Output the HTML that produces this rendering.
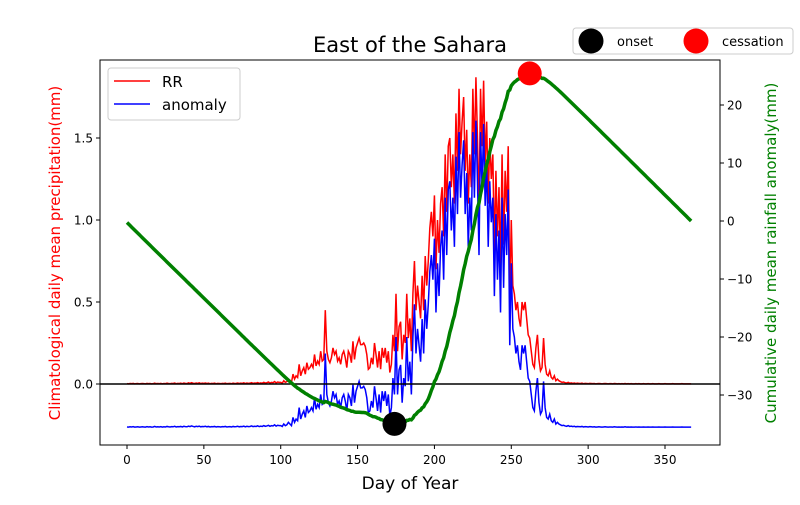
<!DOCTYPE html>
<html><head><meta charset="utf-8"><style>
body{margin:0;background:#fff;}
svg text{font-family:"DejaVu Sans","Liberation Sans",sans-serif;}
</style></head><body>
<svg id="chart" width="800" height="500" viewBox="0 0 800 500" xmlns="http://www.w3.org/2000/svg">
<rect x="0" y="0" width="800" height="500" fill="#fff"/>
<g id="plot"></g>
<rect x="100" y="60" width="620" height="385" fill="none" stroke="#000" stroke-width="1"/>
<g id="axes"></g>
<text x="410" y="52" font-size="21" text-anchor="middle">East of the Sahara</text>
<text x="410" y="489" font-size="17" text-anchor="middle">Day of Year</text>
<text transform="translate(60,253) rotate(-90)" font-size="15" fill="red" text-anchor="middle">Climatological daily mean precipitation(mm)</text>
<text transform="translate(776,253) rotate(-90)" font-size="15" fill="green" text-anchor="middle">Cumulative daily mean rainfall anomaly(mm)</text>
<g>
<rect x="108" y="68" width="132" height="52" rx="3" fill="#fff" fill-opacity="0.8" stroke="#ccc"/>
<line x1="114" y1="81" x2="150" y2="81" stroke="red" stroke-width="1.5"/>
<text x="162" y="87" font-size="15">RR</text>
<line x1="114" y1="104" x2="150" y2="104" stroke="blue" stroke-width="1.5"/>
<text x="162" y="110" font-size="15">anomaly</text>
</g>
<g>
<rect x="573" y="28" width="220" height="26" rx="3" fill="#fff" stroke="#ccc"/>
<circle cx="591" cy="41" r="12.5" fill="#000"/>
<text x="617" y="46" font-size="13">onset</text>
<circle cx="696" cy="41" r="12.5" fill="red"/>
<text x="722" y="46" font-size="13">cessation</text>
</g>
</svg>
<script>
const rrHead = [0.002,0.001,0.003,0.002,0.004,0.001,0.002,0.003,0.001,0.002,0.003,0.002,0.001,0.004,0.002,0.003,0.001,0.002,0.005,0.002,0.003,0.002,0.004,0.001,0.003,0.002,0.005,0.003,0.002,0.004,0.003,0.006,0.002,0.004,0.003,0.005,0.002,0.006,0.004,0.003,0.007,0.004,0.008,0.005,0.003,0.006,0.004,0.007,0.003,0.005,0.004,0.006,0.003,0.005,0.002,0.004,0.003,0.005,0.002,0.004,0.003,0.002,0.004,0.003,0.005,0.002,0.003,0.004,0.002,0.005,0.003,0.004,0.006,0.003,0.005,0.004,0.007,0.003,0.006,0.004,0.005,0.008,0.004,0.006,0.005,0.009,0.004,0.007,0.005,0.01,0.006,0.008,0.012,0.006,0.01,0.008,0.015,0.007,0.012,0.01];
const rrMid = [0.01,0.005,0.02,0.01,0.015,0.03,0.02,0.01,0.06,0.03,0.05,0.04,0.12,0.05,0.08,0.1,0.06,0.13,0.09,0.1,0.12,0.1,0.18,0.11,0.14,0.12,0.2,0.14,0.15,0.45,0.2,
0.15,0.13,0.16,0.22,0.18,0.2,0.14,0.16,0.12,0.18,0.2,0.16,0.1,0.2,0.18,0.13,0.26,0.15,0.22,0.25,0.28,0.24,0.24,0.25,0.23,0.18,0.09,0.1,0.16,0.12,0.25,0.18,0.1,0.2,0.09,0.22,0.16,0.22,0.13,0.2,0.07,0.12,0.3,0.2,0.55,0.2,0.35,0.38,0.15,0.3,0.25,0.55,0.28,0.4,0.2,0.55,0.75,0.45,0.6,0.5,0.4,0.66,0.45,0.78,0.6,0.75,0.95,1.05,0.9,1.15,0.7,1.0,0.8,1.1,1.2,0.9,1.4,1.05,1.45,1.5,1.2,1.4,1.1,1.65,1.3,1.8,1.4,1.6,1.75,1.3,1.55,1.1,1.4,1.2,1.8,1.4,1.87,1.5,1.05,1.8,1.45,1.85,1.35,1.6,1.1,1.5,1.25,1.4,0.8,1.3,0.9,1.2,0.7,1.4,0.85,1.3,1.05,1.45,0.5,1.0,0.6,0.55,0.45,0.5,0.4,0.35,0.5,0.45,0.5,0.4,0.3,0.28,0.2,0.12,0.1,0.22,0.3,0.15,0.08,0.1,0.28,0.12,0.06,0.05,0.08,0.04,0.03,0.05,0.02,0.03,0.02];
const rrTail = [0.015,0.01,0.012,0.008,0.006,0.01,0.005,0.007,0.004,0.006,0.003,0.005,0.004,0.003,0.005,0.002,0.004,0.003,0.002,0.004,0.003,0.002,0.003,0.001,0.002,0.003,0.002,0.001,0.002,0.003,0.002,0.001,0.002,0.002,0.001,0.003,0.002,0.001,0.002,0.001,0.002,0.001,0.003,0.001,0.002,0.001,0.002,0.001,0.001,0.002,0.001,0.002,0.001,0.001,0.002,0.001,0.001,0.002,0.001,0.001,0.002,0.001,0.001,0.001,0.002,0.001,0.001,0.001,0.002,0.001,0.001,0.001,0.001,0.002,0.001,0.001,0.001,0.001,0.001,0.002,0.001,0.001,0.001,0.001,0.001,0.001];
const leftTicks = [0.0,0.5,1.0,1.5];
const rightTicks = [-30,-20,-10,0,10,20];
const xTicks = [0,50,100,150,200,250,300,350];

const rr = rrHead.concat(rrMid, rrTail);
const X = d => 127 + d * (665 - 127) / 350;
const YL = v => 384 - v * 164;
const YR = v => 221 - v * 5.8;
const NS = 'http://www.w3.org/2000/svg';
const plot = document.getElementById('plot');
const axes = document.getElementById('axes');
function mk(tag, attrs, parent) {
  const e = document.createElementNS(NS, tag);
  for (const k in attrs) e.setAttribute(k, attrs[k]);
  parent.appendChild(e); return e;
}
const mean = rr.reduce((a, b) => a + b, 0) / rr.length;
const anom = rr.map(v => v - mean);
const cum = []; let s = 0;
anom.forEach(v => { s += v; cum.push(s); });

const rrLine = mk('polyline', {points: rr.map((v, i) => X(i) + ',' + YL(v)).join(' '), fill: 'none', stroke: 'red', 'stroke-width': 1.5}, plot);


const anLine = mk('polyline', {points: anom.map((v, i) => X(i) + ',' + YL(v)).join(' '), fill: 'none', stroke: 'blue', 'stroke-width': 1.5}, plot);


const zl = mk('line', {x1: 100, x2: 720, y1: YL(0), y2: YL(0), stroke: '#000', 'stroke-width': 1.5}, plot);


const cLine = mk('polyline', {points: cum.map((v, i) => X(i) + ',' + YR(v)).join(' '), fill: 'none', stroke: 'green', 'stroke-width': 3.5}, plot);


let iMin = 0, iMax = 0;
cum.forEach((v, i) => { if (v < cum[iMin]) iMin = i; if (v > cum[iMax]) iMax = i; });
const on = mk('circle', {cx: X(iMin), cy: YR(cum[iMin]), r: 12, fill: '#000'}, plot);


const ce = mk('circle', {cx: X(iMax), cy: YR(cum[iMax]), r: 12, fill: 'red'}, plot);



xTicks.forEach(t => {
  mk('line', {x1: X(t), x2: X(t), y1: 445, y2: 449, stroke: '#000'}, axes);
  const tx = mk('text', {x: X(t), y: 464, 'font-size': 12, 'text-anchor': 'middle'}, axes);
  tx.textContent = t;
  
  
});
leftTicks.forEach(t => {
  mk('line', {x1: 96, x2: 100, y1: YL(t), y2: YL(t), stroke: '#000'}, axes);
  const tx = mk('text', {x: 93, y: YL(t) + 4.5, 'font-size': 12, 'text-anchor': 'end'}, axes);
  tx.textContent = t.toFixed(1);
  
  
});
rightTicks.forEach(t => {
  mk('line', {x1: 720, x2: 724, y1: YR(t), y2: YR(t), stroke: '#000'}, axes);
  const tx = mk('text', {x: 727, y: YR(t) + 4.5, 'font-size': 12}, axes);
  tx.textContent = t < 0 ? '\u2212' + Math.abs(t) : String(t);
  
  
});
</script>
</body></html>
